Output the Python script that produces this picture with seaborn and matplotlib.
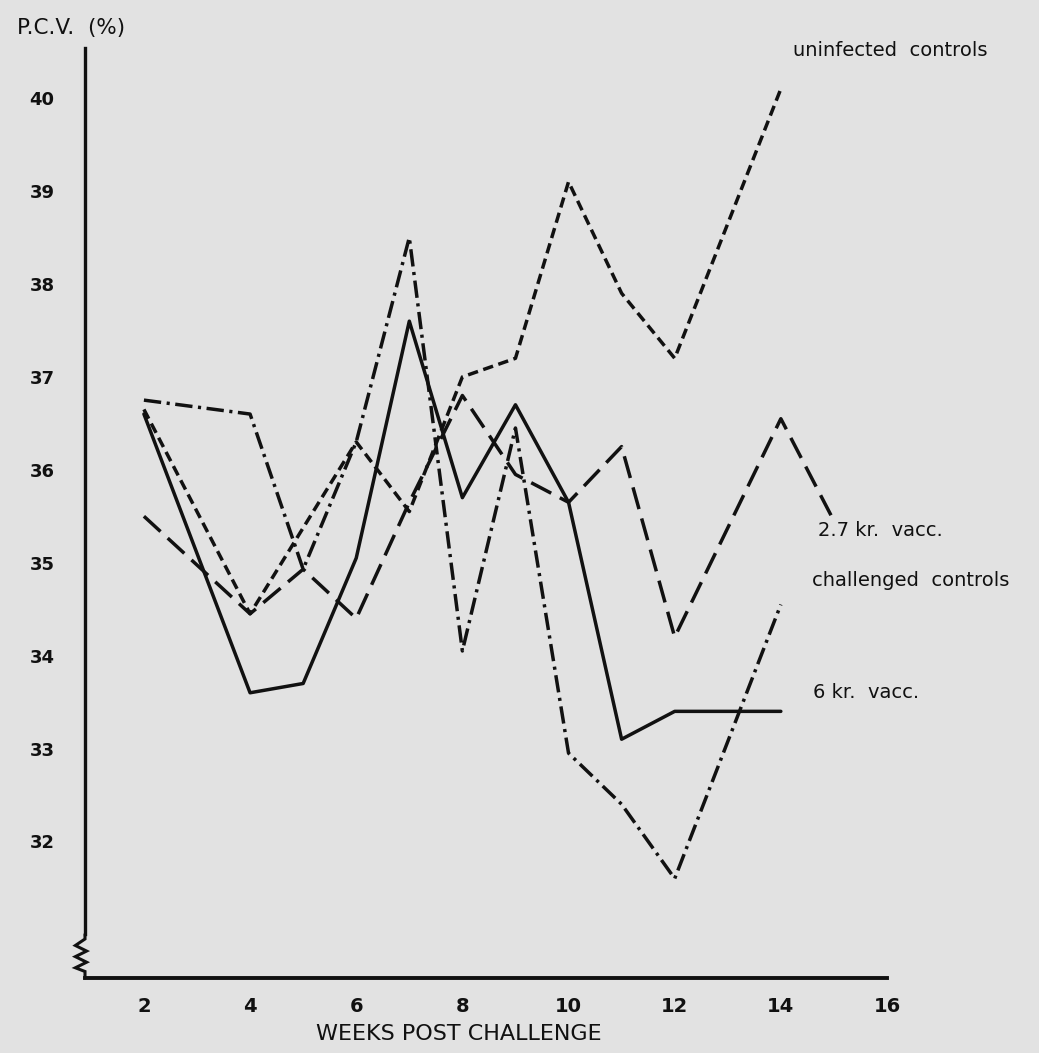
import matplotlib.pyplot as plt
import numpy as np
import pandas as pd
import seaborn as sns

# weeks post challenge (x) and P.C.V. readings per group
WEEKS = [2, 4, 5, 6, 7, 8, 9, 10, 11, 12, 14, 15]

UNINFECTED = [36.65, 34.45, None, 36.3, 35.55, 37.0, 37.2, 39.1, 37.9, 37.2, 40.1, None]
VACC_27KR = [35.5, 34.45, 34.93, 34.4, 35.65, 36.8, 35.95, 35.65, 36.25, 34.2, 36.55, 35.45]
CHALLENGED = [36.75, 36.6, 34.93, 36.3, 38.5, 34.05, 36.45, 32.95, 32.4, 31.6, 34.55, None]
VACC_6KR = [36.6, 33.6, 33.7, 35.05, 37.6, 35.7, 36.7, 35.65, 33.1, 33.4, 33.4, None]

GROUPS = ["uninfected controls", "2.7 kr. vacc.", "challenged controls", "6 kr. vacc."]
Y_TICKS = [32, 33, 34, 35, 36, 37, 38, 39, 40]
X_TICKS = [2, 4, 6, 8, 10, 12, 14, 16]

DASHES = {
    "uninfected controls": (3, 1.6),
    "2.7 kr. vacc.": (6.5, 2.8),
    "challenged controls": (5, 1.6, 0.9, 1.6),
    "6 kr. vacc.": "",
}

PAPER = "#e2e2e2"
INK = "#111111"
W, H = 1039, 1053

rows = []
for name, vals in zip(GROUPS, [UNINFECTED, VACC_27KR, CHALLENGED, VACC_6KR]):
    for wk, v in zip(WEEKS, vals):
        if v is not None:
            rows.append({"week": wk, "pcv": v, "group": name})
df = pd.DataFrame(rows)

sns.set_theme(style="white")
plt.rcParams["font.family"] = ["DejaVu Sans"]

fig = plt.figure(figsize=(W / 100, H / 100), dpi=100, facecolor=PAPER)
ax = fig.add_axes([85 / W, 1 - 978 / H, (887 - 85) / W, (978 - 48) / H])
ax.set_facecolor(PAPER)

sns.lineplot(
    data=df, x="week", y="pcv", style="group", style_order=GROUPS,
    dashes=DASHES, color=INK, linewidth=2.5, legend=False,
    estimator=None, sort=False, ax=ax,
)

ax.set_xlim(0.89, 16)
ax.set_ylim(30.53, 40.54)
ax.set_xticks(X_TICKS)
ax.set_yticks(Y_TICKS)
ax.set_xticklabels([str(t) for t in X_TICKS], fontsize=14, fontweight="bold", color=INK)
ax.set_yticklabels([str(t) for t in Y_TICKS], fontsize=13, fontweight="bold", color=INK)
ax.tick_params(axis="x", direction="out", length=6, width=2, pad=8, colors=INK)
ax.tick_params(axis="y", direction="out", length=6, width=2, pad=16, colors=INK)

for side in ["top", "right"]:
    ax.spines[side].set_visible(False)
ax.spines["left"].set_linewidth(2.4)
ax.spines["bottom"].set_linewidth(2.8)
ax.spines["left"].set_color(INK)
ax.spines["bottom"].set_color(INK)
ax.spines["left"].set_bounds(31.0, 40.54)

# axis break zigzag on the y axis
brk = ax.get_yaxis_transform()
zig_x = [0, 0, -0.012, 0.002, -0.012, 0.002, -0.012, 0, 0]
zig_y = [31.0, 30.95, 30.88, 30.82, 30.76, 30.70, 30.64, 30.6, 30.53]
ax.plot(zig_x, zig_y, transform=brk, color=INK, lw=2.2, clip_on=False,
        solid_joinstyle="miter")

ax.set_xlabel("WEEKS POST CHALLENGE", fontsize=16, color=INK)
ax.xaxis.set_label_coords(0.466, -0.05)
ax.set_ylabel("")

fig.text(17 / W, 1 - 28 / H, "P.C.V.  (%)", fontsize=15.5, color=INK,
         ha="left", va="center")

labels = [
    ("uninfected  controls", 793, 50),
    ("2.7 kr.  vacc.", 818, 530),
    ("challenged  controls", 812, 580),
    ("6 kr.  vacc.", 813, 693),
]
for text, px, py in labels:
    fig.text(px / W, 1 - py / H, text, fontsize=14, color=INK,
             ha="left", va="center")

fig.savefig("out.png", dpi=100, facecolor=PAPER)
